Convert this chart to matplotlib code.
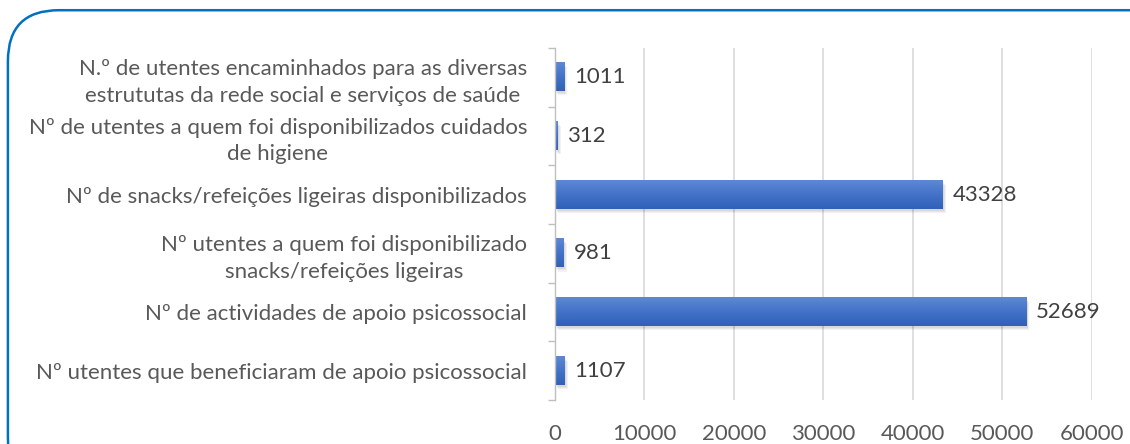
import matplotlib.pyplot as plt
import numpy as np
from matplotlib.patches import FancyBboxPatch

categories = [
    'Nº utentes que beneficiaram de apoio psicossocial',
    'Nº de actividades de apoio psicossocial',
    'Nº utentes a quem foi disponibilizado\nsnacks/refeições ligeiras',
    'Nº de snacks/refeições ligeiras disponibilizados',
    'Nº de utentes a quem foi disponibilizados cuidados\nde higiene',
    'N.º de utentes encaminhados para as diversas\nestrututas da rede social e serviços de saúde',
]
values = [1107, 52689, 981, 43328, 312, 1011]
xticks = [0, 10000, 20000, 30000, 40000, 50000, 60000]

plt.rcParams['font.family'] = ['Lato', 'DejaVu Sans']
fs = 16

fig = plt.figure(figsize=(11.3, 4.44), dpi=100)
ax = fig.add_axes([0.491, 0.099, 0.475, 0.793])

# rounded blue frame around the chart
frame = FancyBboxPatch((0.007, -0.1), 1.2, 1.077, boxstyle='round,pad=0,rounding_size=0.045',
                       transform=fig.transFigure, fill=False, edgecolor='#0070C0', linewidth=1.8,
                       mutation_aspect=1130 / 444, clip_on=False)
fig.patches.append(frame)

y = np.arange(len(values))
h = 0.48

# soft shadow below/right of the bars
for k, a in enumerate([0.05, 0.05, 0.05]):
    ax.barh(y - 0.03 - 0.02 * k, values, height=h, left=150 + 100 * k,
            color='#000000', alpha=a, zorder=2, linewidth=0)
bars = ax.barh(y, values, height=h, color='#4472C4', zorder=3)

# vertical gradient inside each bar
grad = np.linspace(0, 1, 64).reshape(-1, 1)
cmap = plt.matplotlib.colors.LinearSegmentedColormap.from_list('g', ['#5E88D6', '#4372C8', '#3060B8'])
for b in bars:
    x0, y0 = b.get_x(), b.get_y()
    ax.imshow(grad, extent=(x0, x0 + b.get_width(), y0, y0 + b.get_height()), cmap=cmap,
              aspect='auto', zorder=3.5, interpolation='bicubic')

for yi, v in zip(y, values):
    ax.text(v + 1100, yi, str(v), va='center', ha='left', fontsize=fs, color='#404040')

ax.set_xlim(0, 60000)
ax.set_ylim(-0.5, len(values) - 0.5)
ax.set_xticks(xticks)
ax.set_xticklabels([str(t) for t in xticks], fontsize=fs, color='#595959')
ax.set_yticks(y)
ax.set_yticklabels(categories, fontsize=fs, color='#595959', multialignment='center',
                   linespacing=1.4)
ax.tick_params(axis='y', length=0, pad=20)
ax.tick_params(axis='x', length=0, pad=17)
ax.set_yticks(np.arange(-0.5, len(values)), minor=True)
ax.tick_params(axis='y', which='minor', length=5, color='#BFBFBF', width=1)

ax.grid(axis='x', color='#D9D9D9', linewidth=1.2, zorder=0)
ax.set_axisbelow(True)
for s in ['top', 'right', 'bottom']:
    ax.spines[s].set_visible(False)
ax.spines['left'].set_color('#BFBFBF')
ax.spines['left'].set_linewidth(1)
ax.spines['left'].set_zorder(4)

fig.savefig('out.png', dpi=100)
